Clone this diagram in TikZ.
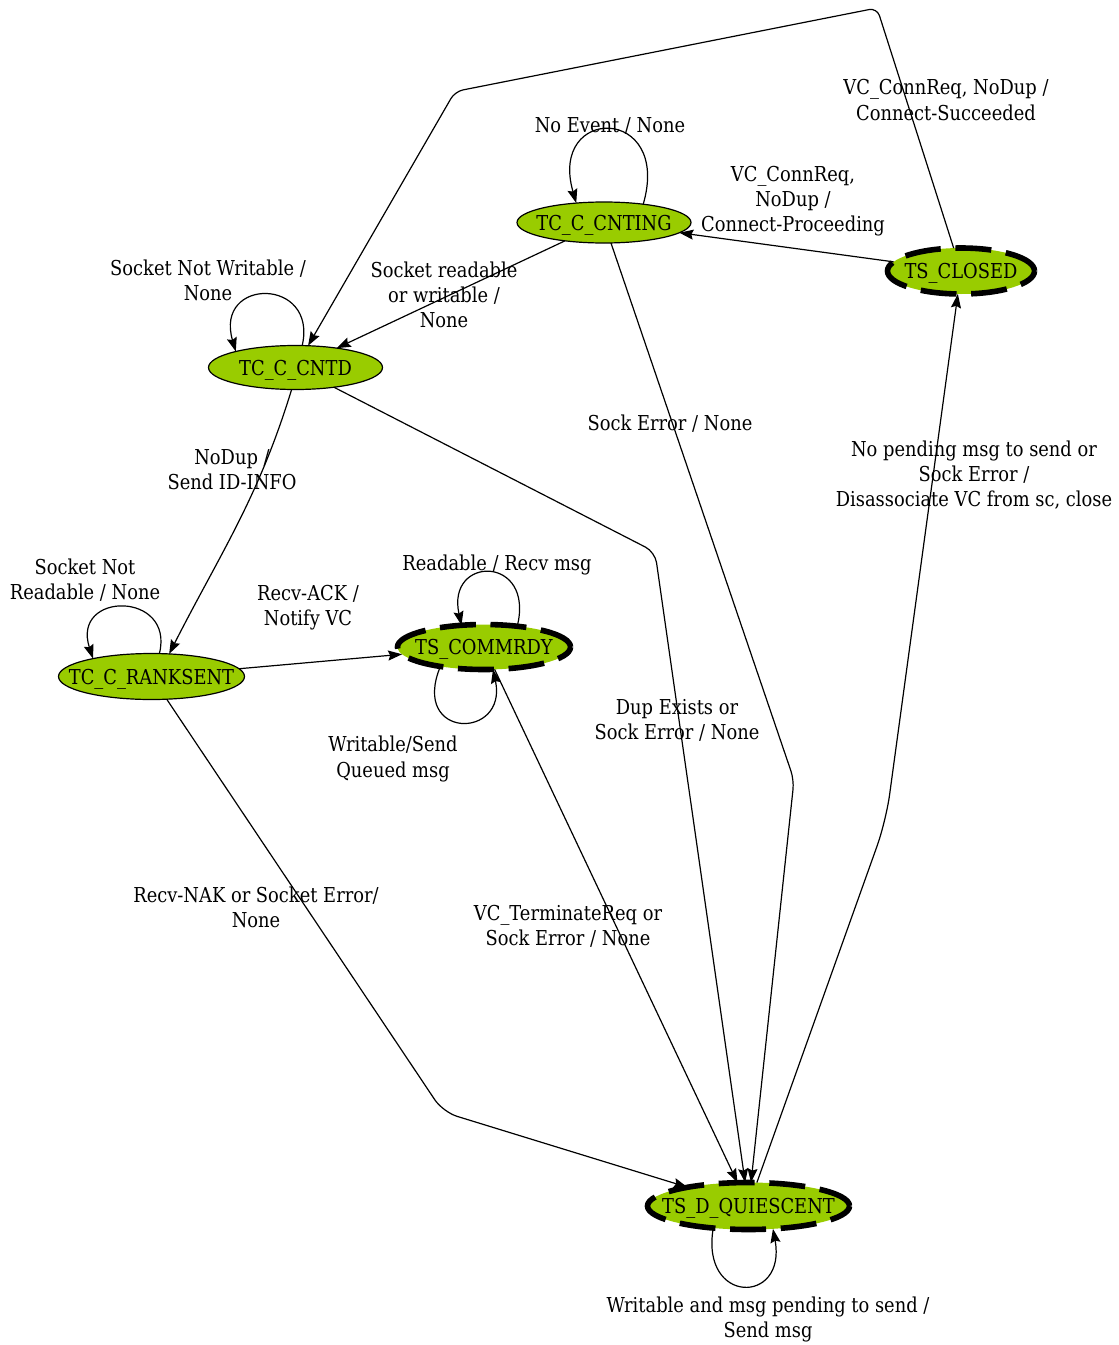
\documentclass[tikz,border=0pt]{standalone}
\usepackage{fontspec}
\setmainfont{DejaVu Serif}[FakeStretch=0.87]
\usetikzlibrary{arrows.meta,shapes.geometric}
\definecolor{stategreen}{RGB}{153,204,0}
% state names are centred without widening the ellipse
\newcommand{\stname}[1]{\smash{\makebox[0pt]{\raisebox{-0.5\height}{#1}}}}
\begin{document}
\begin{tikzpicture}[x=0.75pt,y=-0.75pt,
  every node/.style={font=\fontsize{15.4}{18.8}\selectfont},
  state/.style={ellipse, fill=stategreen, draw=black, line width=0.9pt, inner sep=0pt, outer sep=0pt},
  endstate/.style={state, line width=4.2pt, dash pattern=on 27pt off 11pt},
  edge/.style={draw=black, line width=0.9pt, -{Stealth[length=10.5pt,width=7.5pt,inset=1.5pt]}},
  lbl/.style={align=center, inner sep=0pt}]

\useasboundingbox (0,0) rectangle (1118,1345);

% states
\node[state, minimum width=130.5pt, minimum height=30.75pt] (cnting) at (604,222.5) {\stname{TC\_C\_CNTING}};
\node[endstate, minimum width=110.25pt, minimum height=34.5pt] (closed) at (961,271) {\stname{TS\_CLOSED}};
\node[state, minimum width=130.5pt, minimum height=33pt] (cntd) at (295.5,367.5) {\stname{TC\_C\_CNTD}};
\node[state, minimum width=139.5pt, minimum height=34.5pt] (ranksent) at (151.5,676.5) {\stname{TC\_C\_RANKSENT}};
\node[endstate, minimum width=129.75pt, minimum height=33.75pt] (commrdy) at (484,647) {\stname{TS\_COMMRDY}};
\node[endstate, minimum width=151.5pt, minimum height=35.25pt] (quiescent) at (748.5,1206) {\stname{TS\_D\_QUIESCENT}};

% transitions
\draw[edge, rounded corners=6pt] (closed) -- (877,8) -- (455,91.5) -- (cntd);
\draw[edge] (closed) -- (cnting);
\draw[edge] (cnting.25.4) .. controls (672,105) and (548,105) .. (cnting.145.7);
\draw[edge] (cnting) -- (cntd);
\draw[edge, rounded corners=7pt] (cnting) -- (794,780) -- (quiescent);
\draw[edge] (cntd.73.2) .. controls (318,277) and (214,277) .. (cntd.165);
\draw[edge] (cntd.-100.8) to[out=-107,in=63] (ranksent.52.5);
\draw[edge, rounded corners=8pt] (cntd) -- (655,552) -- (quiescent);
\draw[edge] (ranksent.71.6) .. controls (175,591) and (71,591) .. (ranksent.163.2);
\draw[edge] (ranksent) -- (commrdy);
\draw[edge, rounded corners=11pt] (ranksent) -- (443,1112) -- (quiescent);
\draw[edge] (commrdy.32.7) .. controls (535,555) and (446,555) .. (commrdy.136);
\draw[edge] (commrdy.-156) .. controls (410,740) and (508,740) .. (commrdy.-68.5);
\draw[edge] (commrdy) -- (quiescent);
\draw[edge, rounded corners=20pt] (quiescent) -- (886,821) -- (closed);
\draw[edge] (quiescent.-148) .. controls (700,1305) and (787,1305) .. (quiescent.-43.5);

% transition labels
\node[lbl] (l1) at (946,100) {VC\_ConnReq, NoDup /\\Connect-Succeeded};
\node[lbl] (l2) at (610,126) {No Event / None};
\node[lbl] (l3) at (793,201) {VC\_ConnReq,\\NoDup /\\Connect-Proceeding};
\node[lbl] (l4) at (208,280) {Socket Not Writable /\\None};
\node[lbl] (l5) at (444,295) {Socket readable\\or writable /\\None};
\node[lbl] (l6) at (670,424) {Sock Error / None};
\node[lbl] (l7) at (232,470) {NoDup /\\Send ID-INFO};
\node[lbl] (l8) at (974,475) {No pending msg to send or\\Sock Error /\\Disassociate VC from sc, close};
\node[lbl] (l9) at (85,580) {Socket Not\\Readable / None};
\node[lbl] (l10) at (497,565) {Readable / Recv msg};
\node[lbl] (l11) at (308,608) {Recv-ACK /\\Notify VC};
\node[lbl] (l12) at (677,720) {Dup Exists or\\Sock Error / None};
\node[lbl] (l13) at (393,759) {Writable/Send\\Queued msg};
\node[lbl] (l14) at (256,907) {Recv-NAK or Socket Error/\\None};
\node[lbl] (l15) at (568,926) {VC\_TerminateReq or\\Sock Error / None};
\node[lbl] (l16) at (768,1319) {Writable and msg pending to send /\\Send msg};
\end{tikzpicture}
\end{document}
